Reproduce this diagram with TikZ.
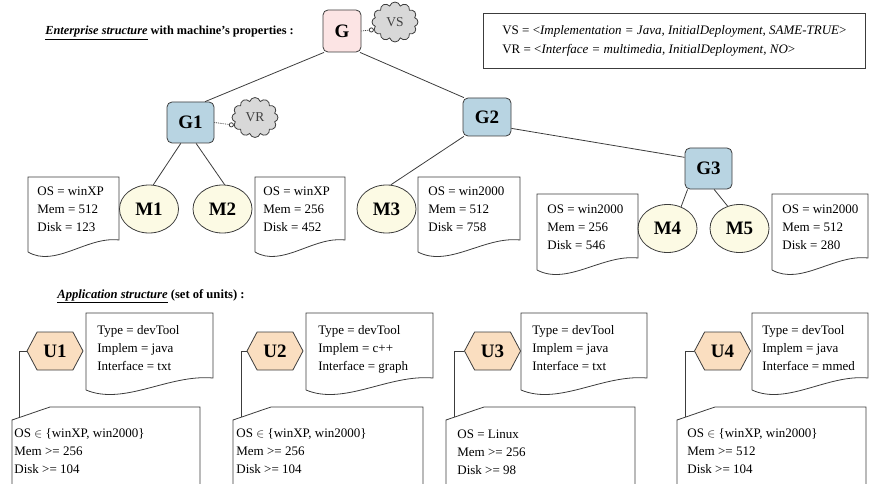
\documentclass[tikz,border=0pt]{standalone}
\usepackage{fontspec}
\setmainfont{Liberation Serif}
\usepackage{tikz}
\usetikzlibrary{arrows.meta,shapes,calc}

\definecolor{gpink}{RGB}{252,228,228}
\definecolor{gblue}{RGB}{184,212,226}
\definecolor{mcream}{RGB}{252,250,228}
\definecolor{upeach}{RGB}{250,222,192}
\definecolor{cloudgray}{RGB}{216,216,216}
\definecolor{edgegray}{RGB}{60,60,60}

% document outline: left, top, right, bottom of the right side
\newcommand{\docoutline}[4]{%
  \draw[docline] (#1,{#4+12}) -- (#1,#2) -- (#3,#2) -- (#3,#4)
    .. controls ({#1+0.65*(#3-#1)},{#4-4}) and ({#1+0.3*(#3-#1)},{#4+28}) .. (#1,{#4+12});}
% requirement outline: left, right (runs off the bottom)
\newcommand{\reqoutline}[2]{%
  \draw[docline] (#1,484) -- (#1,420)
    .. controls ({#1+12},416) and ({#1+26},411) .. ({#1+38},407) -- (#2,407) -- (#2,484);}

\begin{document}
\begin{tikzpicture}[x=1pt,y=-1pt,line width=0.8pt,
  gbox/.style={draw=edgegray,rounded corners=5pt,fill=gblue,minimum width=47pt,minimum height=41pt,
    inner sep=0pt,font=\fontsize{19}{19}\selectfont\bfseries},
  mach/.style={ellipse,draw=edgegray,fill=mcream,minimum width=59pt,minimum height=48pt,
    inner sep=0pt,font=\fontsize{19}{19}\selectfont\bfseries},
  unit/.style={signal,signal to=west and east,signal pointer angle=124,draw=edgegray,fill=upeach,
    minimum width=56pt,minimum height=38pt,inner sep=0pt,font=\fontsize{19}{19}\selectfont\bfseries},
  vcloud/.style={cloud,cloud puffs=12,draw=edgegray,fill=cloudgray,minimum width=46pt,minimum height=40pt,
    inner sep=0pt,font=\fontsize{13.5}{14}\selectfont,text=black!75},
  props/.style={anchor=north west,inner sep=0pt,align=left,font=\fontsize{13}{18}\selectfont},
  docline/.style={draw=edgegray},
  link/.style={edgegray},
  lolly/.style={edgegray,densely dotted,-{Circle[open,length=5pt]}}]
\useasboundingbox (0,0) rectangle (870,484);

% Enterprise structure
\node[anchor=west,inner sep=0pt,font=\fontsize{12.3}{14}\selectfont\bfseries] (enttitle) at (45,33)
  {\underline{\textit{Enterprise structure}} with machine's properties :};
\node[gbox,fill=gpink,minimum width=38pt,minimum height=42pt] (G) at (342,31) {G};
\node[gbox] (G1) at (190.5,122.5) {G1};
\node[gbox,minimum width=48pt,minimum height=38pt] (G2) at (487,117) {G2};
\node[gbox] (G3) at (708.5,168.5) {G3};

% clouds with their vectors
\node[vcloud] (vs) at (395,22) {VS};
\node[vcloud] (vr) at (255,117.5) {VR};
\draw[lolly] (G.east) -- (vs.200);
\draw[lolly] (G1.east) -- (vr.200);
\node[draw=edgegray,anchor=north west,inner sep=0pt,minimum width=382pt,minimum height=55pt,
  align=left,font=\fontsize{13}{19}\selectfont] (vdef) at (483,13)
  {VS = <\textit{Implementation = Java, InitialDeployment, SAME-TRUE}>\\
   VR = <\textit{Interface = multimedia, InitialDeployment, NO}>};

% machines
\node[mach] (M1) at (149,209) {M1};
\node[mach] (M2) at (222.5,209) {M2};
\node[mach] (M3) at (386.5,209) {M3};
\node[mach] (M4) at (667.5,228.5) {M4};
\node[mach] (M5) at (739.5,228.5) {M5};

% tree
\draw[link] (G.-130) -- (G1.55);
\draw[link] (G.-50) -- (G2.140);
\draw[link] (G2.-25) -- (G3.155);
\draw[link] (G2.-140) -- (M3.80);
\draw[link] (G1.-115) -- (M1.80);
\draw[link] (G1.-75) -- (M2.85);
\draw[link] (G3.-135) -- (M4.58);
\draw[link] (G3.-75) -- (M5.118);

% machine properties
\docoutline{28}{177}{119}{240}
\node[props] (p1) at (37,186) {OS = winXP\\Mem = 512\\Disk = 123};
\docoutline{255}{177}{345}{240}
\node[props] (p2) at (263,186) {OS = winXP\\Mem = 256\\Disk = 452};
\docoutline{418}{177}{520}{240}
\node[props] (p3) at (428,186) {OS = win2000\\Mem = 512\\Disk = 758};
\docoutline{537}{194}{638}{258}
\node[props] (p4) at (547,204) {OS = win2000\\Mem = 256\\Disk = 546};
\docoutline{772}{194}{868}{258}
\node[props] (p5) at (782,204) {OS = win2000\\Mem = 512\\Disk = 280};

% Application structure
\node[anchor=west,inner sep=0pt,font=\fontsize{12.6}{14}\selectfont\bfseries] (apptitle) at (57,296)
  {\underline{\textit{Application structure}} (set of units) :};

% unit 1
\node[unit] (U1) at (55,351) {U1};
\docoutline{86}{313}{213}{378}
\node[props] (t1) at (97,325) {Type = devTool\\Implem = java\\Interface = txt};
\reqoutline{12}{200}
\coordinate (r1) at (19,417.6);
\draw[link] (U1.west) -| (r1);
\node[props] (q1) at (14,428) {OS $\in$ \{winXP, win2000\}\\Mem >= 256\\Disk >= 104};

% unit 2
\node[unit] (U2) at (275,351) {U2};
\docoutline{306}{313}{433}{378}
\node[props] (t2) at (318,325) {Type = devTool\\Implem = c++\\Interface = graph};
\reqoutline{233}{423}
\coordinate (r2) at (241,417.3);
\draw[link] (U2.west) -| (r2);
\node[props] (q2) at (236,428) {OS $\in$ \{winXP, win2000\}\\Mem >= 256\\Disk >= 104};

% unit 3
\node[unit] (U3) at (492.5,351) {U3};
\docoutline{521}{313}{647}{378}
\node[props] (t3) at (532,325) {Type = devTool\\Implem = java\\Interface = txt};
\reqoutline{446}{635}
\coordinate (r3) at (454,417.3);
\draw[link] (U3.west) -| (r3);
\node[props] (q3) at (457,429) {OS = Linux\\Mem >= 256\\Disk >= 98};

% unit 4
\node[unit] (U4) at (722.5,351) {U4};
\docoutline{752}{313}{868}{378}
\node[props] (t4) at (762,325) {Type = devTool\\Implem = java\\Interface = mmed};
\reqoutline{677}{866}
\coordinate (r4) at (685,417.3);
\draw[link] (U4.west) -| (r4);
\node[props] (q4) at (687,428) {OS $\in$ \{winXP, win2000\}\\Mem >= 512\\Disk >= 104};
\end{tikzpicture}
\end{document}
